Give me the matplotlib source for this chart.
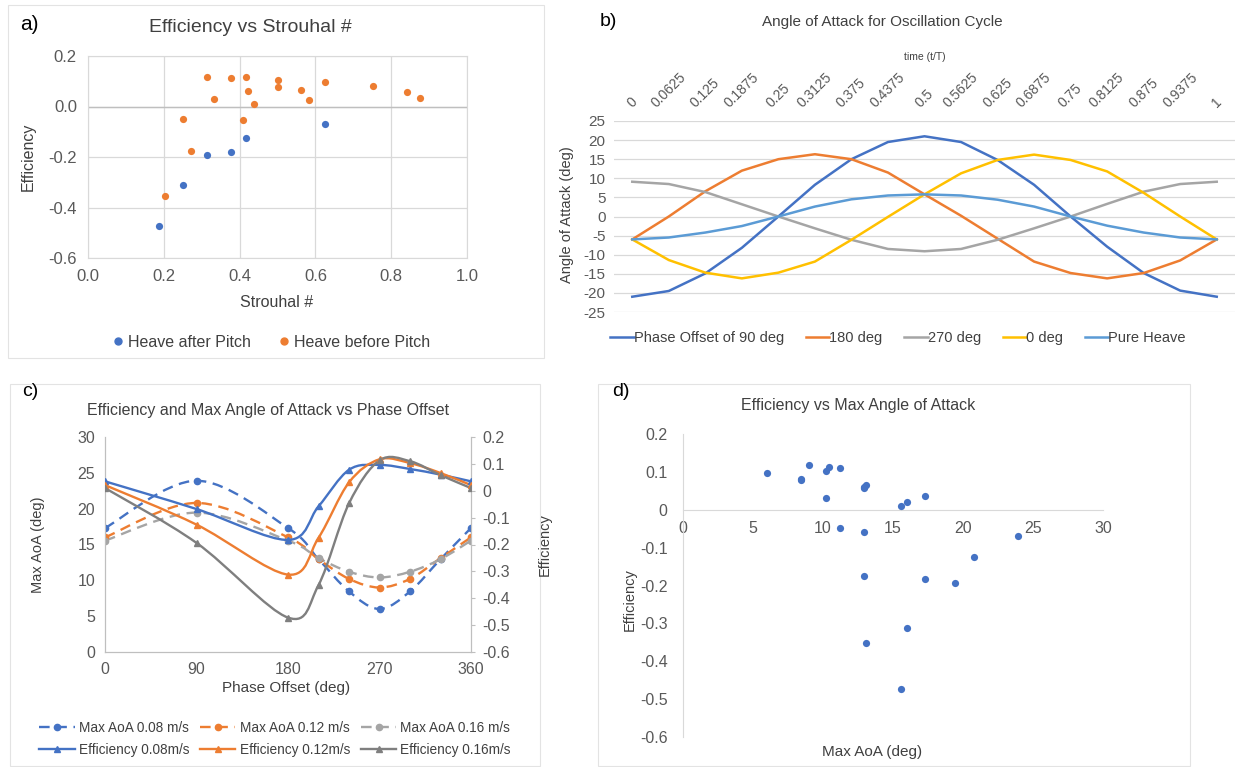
import matplotlib
matplotlib.use("Agg")
import matplotlib.pyplot as plt
from matplotlib.path import Path
from matplotlib.patches import PathPatch, Rectangle
from matplotlib.lines import Line2D

plt.rcParams['font.family'] = ['Liberation Sans', 'DejaVu Sans']

BLUE = '#4472C4'
ORANGE = '#ED7D31'
GRAY = '#A5A5A5'
DGRAY = '#7F7F7F'
YELLOW = '#FFC000'
LBLUE = '#5B9BD5'
TXT = '#404040'
TICK = '#595959'
GRID = '#D9D9D9'

# ---------------- (a) Efficiency vs Strouhal number ----------------
st_after = [0.187, 0.250, 0.314, 0.376, 0.416, 0.626]
eff_after = [-0.474, -0.312, -0.193, -0.182, -0.126, -0.068]
st_before = [0.203, 0.250, 0.272, 0.314, 0.333, 0.376, 0.409, 0.416, 0.421,
             0.438, 0.501, 0.501, 0.562, 0.584, 0.626, 0.751, 0.842, 0.876]
eff_before = [-0.353, -0.048, -0.178, 0.116, 0.031, 0.111, -0.055, 0.117, 0.062,
              0.010, 0.105, 0.078, 0.065, 0.025, 0.098, 0.083, 0.057, 0.034]

# ---------------- (b) Angle of attack over one cycle ----------------
time_labels = ['0', '0.0625', '0.125', '0.1875', '0.25', '0.3125', '0.375', '0.4375',
               '0.5', '0.5625', '0.625', '0.6875', '0.75', '0.8125', '0.875', '0.9375', '1']
aoa_phase90 = [-21.0, -19.5, -14.9, -8.2, 0.0, 8.3, 15.0, 19.5, 21.0,
               19.5, 14.8, 8.3, 0.0, -7.9, -14.8, -19.4, -21.0]
aoa_phase180 = [-6.0, 0.0, 6.6, 12.0, 15.0, 16.3, 15.0, 11.5, 5.8,
                0.2, -5.8, -11.8, -14.8, -16.2, -14.8, -11.5, -6.0]
aoa_phase270 = [9.1, 8.5, 6.4, 3.2, 0.0, -3.1, -6.1, -8.5, -9.1,
                -8.5, -6.1, -3.1, 0.0, 3.3, 6.5, 8.5, 9.1]
aoa_phase0 = [-6.0, -11.4, -14.7, -16.2, -14.7, -11.8, -6.1, -0.1, 5.8,
              11.3, 14.8, 16.2, 14.8, 11.8, 6.2, 0.0, -6.0]
aoa_heave = [-6.0, -5.5, -4.2, -2.5, 0.0, 2.6, 4.5, 5.5, 5.8,
             5.5, 4.4, 2.6, 0.0, -2.4, -4.2, -5.5, -6.0]

# ---------------- (c) Efficiency and max AoA vs phase offset ----------------
phase = [0, 90, 180, 210, 240, 270, 300, 330, 360]
maxaoa_008 = [17.3, 23.9, 17.3, 12.95, 8.45, 6.0, 8.45, 12.95, 17.3]
maxaoa_012 = [16.0, 20.8, 16.0, 12.95, 10.2, 9.0, 10.2, 13.1, 16.0]
maxaoa_016 = [15.55, 19.45, 15.55, 13.1, 11.2, 10.4, 11.2, 12.95, 15.55]
eff_008 = [0.035, -0.068, -0.183, -0.058, 0.078, 0.096, 0.081, 0.060, 0.035]
eff_012 = [0.021, -0.126, -0.312, -0.175, 0.031, 0.117, 0.103, 0.066, 0.021]
eff_016 = [0.010, -0.194, -0.472, -0.351, -0.047, 0.113, 0.110, 0.058, 0.010]

W, H = 1238, 767
fig = plt.figure(figsize=(W / 100, H / 100), dpi=100)
fig.patch.set_facecolor('white')


def ax_px(left, top, right, bottom):
    return fig.add_axes([left / W, 1 - bottom / H, (right - left) / W, (bottom - top) / H])


def ftext(x, y, s, **kw):
    kw.setdefault('color', TXT)
    kw.setdefault('ha', 'center')
    kw.setdefault('va', 'center')
    fig.text(x / W, 1 - y / H, s, **kw)


def frame(left, top, right, bottom):
    fig.patches.append(Rectangle((left / W, 1 - bottom / H), (right - left) / W,
                                 (bottom - top) / H, transform=fig.transFigure,
                                 facecolor='none', edgecolor='#E3E3E3', lw=0.8, zorder=0))


def smooth_path(x, y):
    """Excel-style smoothed line: cubic Bezier segments through every point."""
    pts = list(zip(x, y))
    n = len(pts)
    verts = [pts[0]]
    codes = [Path.MOVETO]
    for i in range(n - 1):
        p0 = pts[i - 1] if i > 0 else pts[i]
        p1 = pts[i]
        p2 = pts[i + 1]
        p3 = pts[i + 2] if i + 2 < n else pts[i + 1]
        c1 = (p1[0] + (p2[0] - p0[0]) / 6, p1[1] + (p2[1] - p0[1]) / 6)
        c2 = (p2[0] - (p3[0] - p1[0]) / 6, p2[1] - (p3[1] - p1[1]) / 6)
        verts += [c1, c2, p2]
        codes += [Path.CURVE4] * 3
    return Path(verts, codes)


frame(8, 5, 544, 358)
frame(10, 384, 540, 766)
frame(598, 384, 1190, 766)

# ---------------- panel (a) ----------------
axa = ax_px(88, 56, 467, 258)
axa.scatter(st_after, eff_after, s=27, color=BLUE, zorder=3, linewidths=0)
axa.scatter(st_before, eff_before, s=27, color=ORANGE, zorder=3, linewidths=0)
axa.set_xlim(0, 1.0)
axa.set_ylim(-0.6, 0.2)
xt = [0.0, 0.2, 0.4, 0.6, 0.8, 1.0]
yt = [-0.6, -0.4, -0.2, 0.0, 0.2]
axa.set_xticks(xt)
axa.set_xticklabels([f'{v:.1f}' for v in xt])
axa.set_yticks(yt)
axa.set_yticklabels([f'{v:.1f}'.replace('-0.0', '0.0') for v in yt])
axa.grid(True, color=GRID, lw=0.9)
axa.axhline(0, color='#BFBFBF', lw=1.0, zorder=1)
for sp in axa.spines.values():
    sp.set_color(GRID)
axa.tick_params(length=0, labelsize=12, labelcolor=TICK, pad=8)
axa.set_axisbelow(True)
ftext(20, 24, 'a)', fontsize=15, color='black', ha='left')
ftext(250, 27, 'Efficiency vs Strouhal #', fontsize=14)
ftext(277, 303, 'Strouhal #', fontsize=11.5)
ftext(28, 157, 'Efficiency', fontsize=11.5, rotation=90)
hdl_a = [Line2D([], [], ls='none', marker='o', ms=5, color=BLUE, mec=BLUE),
         Line2D([], [], ls='none', marker='o', ms=5, color=ORANGE, mec=ORANGE)]
fig.legend(hdl_a, ['Heave after Pitch', 'Heave before Pitch'], loc='center',
           bbox_to_anchor=(270 / W, 1 - 342 / H), ncol=2, frameon=False,
           fontsize=11.5, handletextpad=0.1, columnspacing=1.6, handlelength=1.0,
           labelcolor=TXT)

# ---------------- panel (b) ----------------
axb = ax_px(614, 121, 1235, 312)
idx = list(range(len(time_labels)))
for vals, col in [(aoa_phase90, BLUE), (aoa_phase180, ORANGE), (aoa_phase270, GRAY),
                  (aoa_phase0, YELLOW), (aoa_heave, LBLUE)]:
    axb.plot(idx, vals, color=col, lw=1.8, solid_joinstyle='round', zorder=3)
axb.set_xlim(-0.5, len(time_labels) - 0.5)
axb.set_ylim(-25, 25)
axb.set_yticks(range(-25, 30, 5))
axb.set_yticklabels([str(v) for v in range(-25, 30, 5)])
axb.yaxis.grid(True, color=GRID, lw=0.9)
axb.set_axisbelow(True)
for sp in axb.spines.values():
    sp.set_visible(False)
axb.xaxis.tick_top()
axb.set_xticks(idx)
axb.set_xticklabels(time_labels, rotation=45, ha='center', va='bottom')
axb.tick_params(axis='x', length=0, labelsize=10, labelcolor=TICK, pad=8)
axb.tick_params(axis='y', length=0, labelsize=11, labelcolor=TICK, pad=6)
ftext(600, 22, 'b)', fontsize=14, color='black', ha='left')
ftext(882, 22, 'Angle of Attack for Oscillation Cycle', fontsize=11)
ftext(925, 57, 'time (t/T)', fontsize=7.5)
ftext(567, 215, 'Angle of Attack (deg)', fontsize=10.5, rotation=90)
hdl_b = [Line2D([], [], color=c, lw=1.8) for c in (BLUE, ORANGE, GRAY, YELLOW, LBLUE)]
fig.legend(hdl_b, ['Phase Offset of 90 deg', '180 deg', '270 deg', '0 deg', 'Pure Heave'],
           loc='center', bbox_to_anchor=(898 / W, 1 - 338 / H), ncol=5, frameon=False,
           fontsize=10.5, handletextpad=0.0, columnspacing=1.5, handlelength=1.6,
           labelcolor=TXT)

# ---------------- panel (c) ----------------
axc = ax_px(105, 437, 471, 652)
axr = axc.twinx()
dash = (0, (4.5, 2.8))
for vals, col in [(maxaoa_008, BLUE), (maxaoa_012, ORANGE), (maxaoa_016, GRAY)]:
    axc.add_patch(PathPatch(smooth_path(phase, vals), facecolor='none', edgecolor=col,
                            lw=1.7, linestyle=dash, zorder=2))
    axc.plot(phase, vals, ls='none', marker='o', ms=4.5, color=col, zorder=3)
for vals, col in [(eff_008, BLUE), (eff_012, ORANGE), (eff_016, DGRAY)]:
    axr.add_patch(PathPatch(smooth_path(phase, vals), facecolor='none', edgecolor=col,
                            lw=1.7, zorder=2))
    axr.plot(phase, vals, ls='none', marker='^', ms=4.5, color=col, zorder=3)
axc.set_xlim(0, 360)
axc.set_ylim(0, 30)
axr.set_ylim(-0.6, 0.2)
axc.set_xticks([0, 90, 180, 270, 360])
axc.set_yticks(range(0, 35, 5))
rt = [-0.6, -0.5, -0.4, -0.3, -0.2, -0.1, 0.0, 0.1, 0.2]
axr.set_yticks(rt)
axr.set_yticklabels(['0' if abs(v) < 1e-9 else f'{v:.1f}' for v in rt])
for a in (axc, axr):
    for sp in a.spines.values():
        sp.set_color('#BFBFBF')
    a.spines['top'].set_visible(False)
axc.tick_params(length=0, labelsize=11.5, labelcolor=TICK, pad=7)
axr.tick_params(axis='y', length=3, color='#BFBFBF', labelsize=11.5, labelcolor=TICK, pad=5)
ftext(22, 392, 'c)', fontsize=14, color='black', ha='left')
ftext(268, 411, 'Efficiency and Max Angle of Attack vs Phase Offset', fontsize=11.5)
ftext(286, 688, 'Phase Offset (deg)', fontsize=11)
ftext(38, 545, 'Max AoA (deg)', fontsize=10.5, rotation=90)
ftext(545, 545, 'Efficiency', fontsize=10.5, rotation=90)
hdl_c = []
for col, dcol in [(BLUE, BLUE), (ORANGE, ORANGE), (GRAY, DGRAY)]:
    hdl_c.append(Line2D([], [], color=col, lw=1.7, ls=dash, marker='o', ms=4.5))
    hdl_c.append(Line2D([], [], color=dcol, lw=1.7, marker='^', ms=4.5))
labels_c = ['Max AoA 0.08 m/s', 'Efficiency 0.08m/s', 'Max AoA 0.12 m/s',
            'Efficiency 0.12m/s', 'Max AoA 0.16 m/s', 'Efficiency 0.16m/s']
fig.legend(hdl_c, labels_c, loc='center', bbox_to_anchor=(275 / W, 1 - 739 / H), ncol=3,
           frameon=False, fontsize=9.8, handletextpad=0.3, columnspacing=0.8,
           handlelength=2.6, labelspacing=0.55, labelcolor=TXT)

# ---------------- panel (d) ----------------
axd = ax_px(683, 434, 1103, 737)
d_aoa = maxaoa_008[:-1] + maxaoa_012[:-1] + maxaoa_016[:-1]
d_eff = eff_008[:-1] + eff_012[:-1] + eff_016[:-1]
axd.scatter(d_aoa, d_eff, s=27, color=BLUE, linewidths=0, zorder=3)
axd.set_xlim(0, 30)
axd.set_ylim(-0.6, 0.2)
axd.set_xticks(range(0, 35, 5))
dt = [-0.6, -0.5, -0.4, -0.3, -0.2, -0.1, 0.0, 0.1, 0.2]
axd.set_yticks(dt)
axd.set_yticklabels(['0' if abs(v) < 1e-9 else f'{v:.1f}' for v in dt])
axd.spines['top'].set_visible(False)
axd.spines['right'].set_visible(False)
axd.spines['bottom'].set_position(('data', 0))
axd.spines['bottom'].set_color(GRID)
axd.spines['left'].set_color(GRID)
axd.tick_params(axis='x', length=0, labelsize=11.5, labelcolor=TICK, pad=8)
axd.tick_params(axis='y', length=0, labelsize=11.5, labelcolor=TICK, pad=11)
ftext(612, 392, 'd)', fontsize=14, color='black', ha='left')
ftext(858, 406, 'Efficiency vs Max Angle of Attack', fontsize=11.5)
ftext(872, 752, 'Max AoA (deg)', fontsize=11)
ftext(630, 600, 'Efficiency', fontsize=10.5, rotation=90)

fig.savefig('out.png', dpi=100, facecolor='white')
